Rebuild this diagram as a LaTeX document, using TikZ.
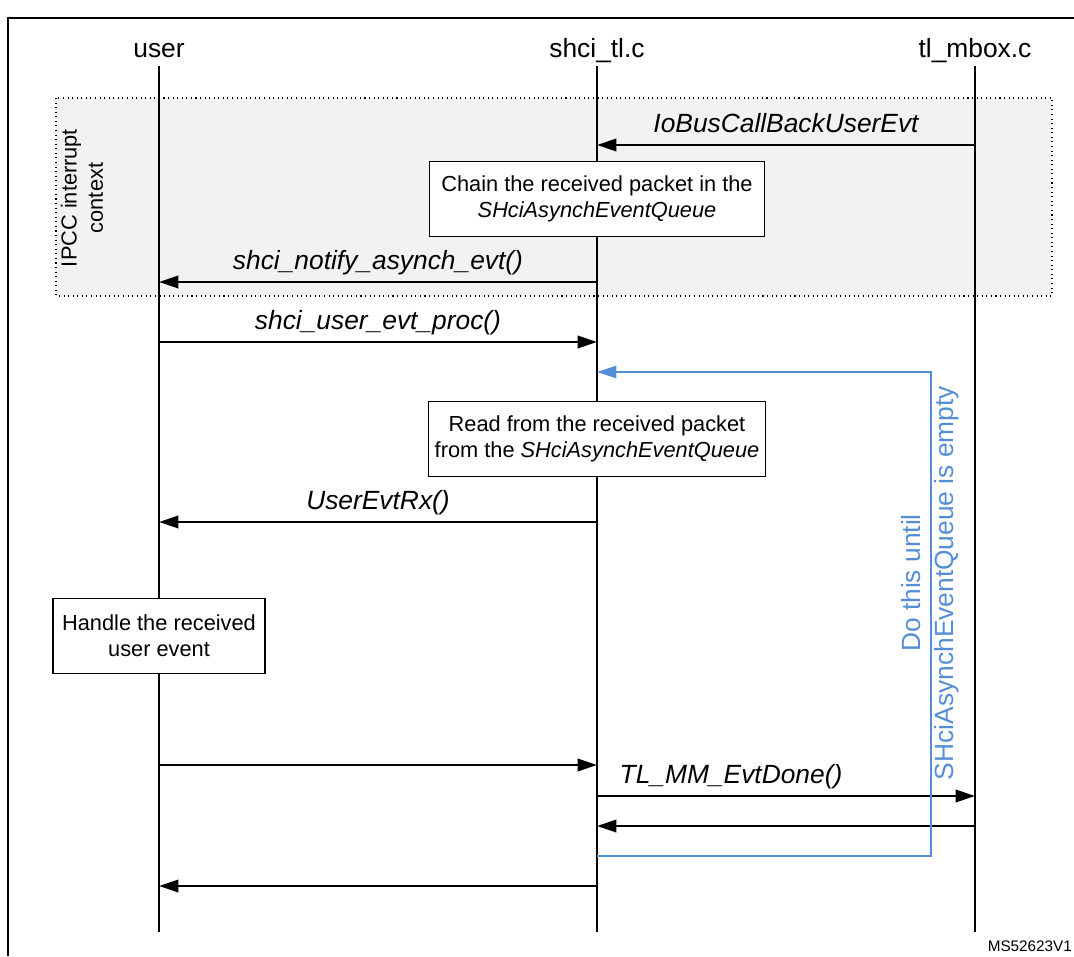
\documentclass[tikz,border=0pt]{standalone}
\usepackage{fontspec}
\setmainfont{Liberation Sans}
\usepackage{xcolor}
\usepackage{tikz}
\usetikzlibrary{arrows.meta,positioning}
\definecolor{ipccgray}{HTML}{F2F2F2}
\definecolor{loopblue}{HTML}{558ED5}
\newcommand{\hdrfont}{\fontsize{15}{18}\selectfont}
\newcommand{\notefont}{\fontsize{12.4}{15}\selectfont}

\begin{document}
\begin{tikzpicture}[x=0.02cm,y=-0.02cm,
    lifeline/.style={line width=0.6pt},
    msg/.style={-{Triangle[length=11pt,width=7pt]},line width=1.5pt},
    lbl/.style={font=\hdrfont\itshape,above=0.5pt,inner sep=2.5pt,text depth=3.5pt},
    hdr/.style={font=\hdrfont,inner sep=2pt,text height=11pt,text depth=3pt},
    note/.style={draw,fill=white,line width=0.6pt,align=center,font=\notefont,
      minimum height=1.5cm}]
  \useasboundingbox (0,0) rectangle (1074,956);
  % frame
  \draw[line width=1.2pt] (8,956) -- (8,18) -- (1074,18);
  % interrupt context
  \draw[dotted,fill=ipccgray,line width=0.6pt] (56,98) rectangle (1052,296);
  \node[rotate=90,align=center,font=\notefont] (ipcc) at (82,198)
        {IPCC interrupt\\context};
  % lifelines
  \node[hdr] (user) at (159,50) {user};
  \node[hdr] (shci) at (597,50) {shci\_tl.c};
  \node[hdr] (mbox) at (975,50) {tl\_mbox.c};
  \foreach \r/\y in {a/145,b/282,c/342,d/372,e/522,f/765,g/796,h/826,i/856,j/886,end/932}{
    \coordinate (U\r) at (159,\y);
    \coordinate (S\r) at (597,\y);
    \coordinate (M\r) at (975,\y);
  }
  \draw[lifeline] (user) -- (Uend);
  \draw[lifeline] (shci) -- (Send);
  \draw[lifeline] (mbox) -- (Mend);
  % messages
  \draw[msg] (Ma) -- node[lbl] {IoBusCallBackUserEvt} (Sa);
  \node[note,minimum width=6.7cm] (chain) at (597,199)
        {Chain the received packet in the\\\textit{SHciAsynchEventQueue}};
  \draw[msg] (Sb) -- node[lbl] {shci\_notify\_asynch\_evt()} (Ub);
  \draw[msg] (Uc) -- node[lbl] {shci\_user\_evt\_proc()} (Sc);
  \node[note,minimum width=6.7cm] (read) at (597,439)
        {Read from the received packet\\from the \textit{SHciAsynchEventQueue}};
  \draw[msg] (Se) -- node[lbl] {UserEvtRx()} (Ue);
  \node[note,minimum width=4.24cm] (handle) at (159,636)
        {Handle the received\\user event};
  \draw[msg] (Uf) -- (Sf);
  \draw[msg] (Sg) -- node[lbl,pos=0.045,anchor=south west] {TL\_MM\_EvtDone()} (Mg);
  \draw[msg] (Mh) -- (Sh);
  \draw[msg] (Sj) -- (Uj);
  % loop
  \coordinate (turn) at (931,372);
  \draw[-{Triangle[length=11pt,width=7pt]},loopblue,line width=1.1pt]
        (Si) -| (turn) -- (Sd);
  \node[rotate=90,align=center,text=loopblue,font=\fontsize{15}{18.5}\selectfont]
        (loopnote) at (930,583) {Do this until\\SHciAsynchEventQueue is empty};
  \node[anchor=east,font=\fontsize{8.7}{10}\selectfont,inner sep=1pt] (ref) at (1074,946) {MS52623V1};
\end{tikzpicture}
\end{document}
